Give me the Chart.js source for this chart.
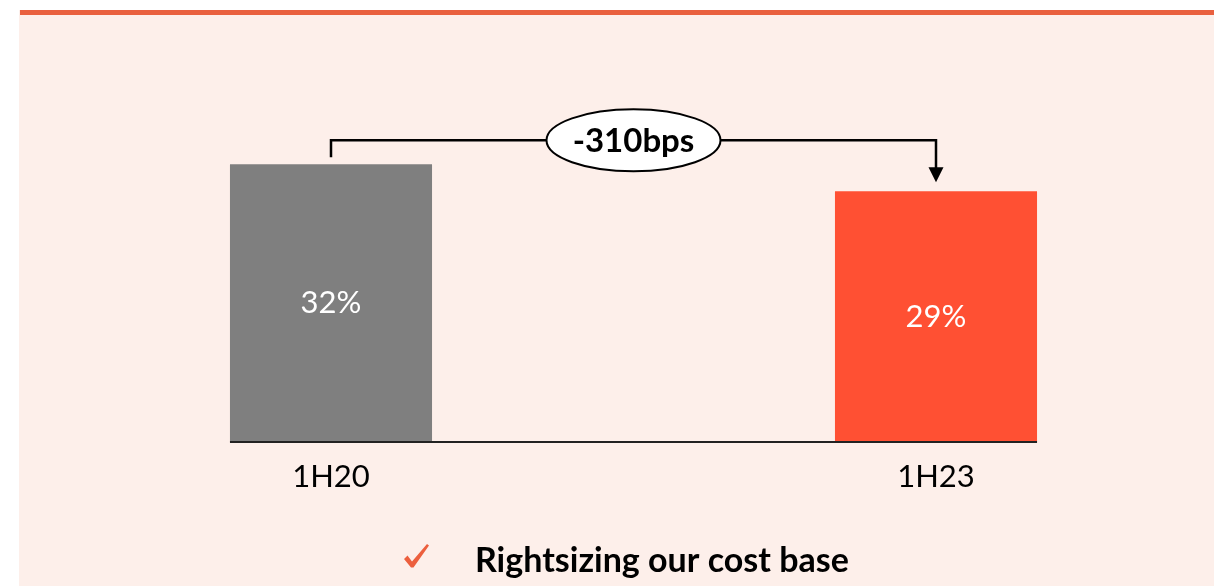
<!DOCTYPE html>
<html>
<head>
<meta charset="utf-8">
<script src="https://cdn.jsdelivr.net/npm/chart.js@4/dist/chart.umd.min.js"></script>
<style>
  html,body{margin:0;padding:0;background:#fff;}
  #wrap{width:1214px;height:586px;position:relative;}
</style>
</head>
<body>
<div id="wrap"><canvas id="myChart" width="1214" height="586"></canvas></div>
<script>
'use strict';
// data
let periods=['1H20','1H23'];
let costRatio=[32.1,29.0];
let barColors=['#7f7f7f','#ff5033'];
let changeLabel='-310bps';
let footNote='Rightsizing our cost base';

let bgPlugin={
  id:'bg',
  beforeDraw(chart){
    let ctx=chart.ctx;
    ctx.save();
    ctx.fillStyle='#ffffff';
    ctx.fillRect(0,0,chart.width,chart.height);
    ctx.fillStyle='#fdefea';
    ctx.fillRect(19,10,chart.width-19,chart.height-10);
    ctx.fillStyle='#e9603f';
    ctx.fillRect(20,10,chart.width-20,5);
    ctx.restore();
  }
};

let extrasPlugin={
  id:'extras',
  afterDatasetsDraw(chart){
    let ctx=chart.ctx;
    let bars=chart.getDatasetMeta(0).data;
    let b0=bars[0],b1=bars[1];
    ctx.save();
    // base line under the bars
    let zeroY=chart.scales.y.getPixelForValue(0);
    ctx.strokeStyle='#222';
    ctx.lineWidth=2;
    ctx.beginPath();
    ctx.moveTo(b0.x-b0.width/2,zeroY);
    ctx.lineTo(b1.x+b1.width/2,zeroY);
    ctx.stroke();

    // value labels inside bars
    ctx.fillStyle='#ffffff';
    ctx.font='31px Lato';
    ctx.textAlign='center';
    ctx.textBaseline='middle';
    bars.forEach((b,i)=>{
      ctx.fillText(Math.round(costRatio[i])+'%',b.x,(b.y+b.base)/2);
    });

    // bracket with arrow
    let topY=b0.y-24;
    let tipY=b1.y-9;
    ctx.strokeStyle='#000';
    ctx.lineWidth=2.5;
    ctx.beginPath();
    ctx.moveTo(b0.x,b0.y-7);
    ctx.lineTo(b0.x,topY);
    ctx.lineTo(b1.x,topY);
    ctx.lineTo(b1.x,tipY-14);
    ctx.stroke();
    ctx.fillStyle='#000';
    ctx.beginPath();
    ctx.moveTo(b1.x-7.5,tipY-15);
    ctx.lineTo(b1.x+7.5,tipY-15);
    ctx.lineTo(b1.x,tipY);
    ctx.closePath();
    ctx.fill();

    // ellipse badge
    let cx=(b0.x+b1.x)/2;
    ctx.fillStyle='#ffffff';
    ctx.lineWidth=2;
    ctx.beginPath();
    ctx.ellipse(cx,topY,87,31,0,0,Math.PI*2);
    ctx.fill();
    ctx.stroke();
    ctx.fillStyle='#000';
    ctx.font='bold 33px Lato';
    ctx.fillText(changeLabel,cx,topY+1);

    // footnote with check mark
    ctx.textAlign='left';
    ctx.textBaseline='alphabetic';
    ctx.font='bold 34px Lato';
    ctx.fillText(footNote,475,572);
    ctx.fillStyle='#ec5f3e';
    ctx.beginPath();
    ctx.moveTo(404,559);
    ctx.lineTo(407.5,555.5);
    ctx.lineTo(412,561.5);
    ctx.lineTo(427,544);
    ctx.lineTo(429,545.5);
    ctx.lineTo(413.5,567.5);
    ctx.lineTo(411,567.5);
    ctx.closePath();
    ctx.fill();
    ctx.restore();
  }
};

let ctx=document.getElementById('myChart');
let myChart=new Chart(ctx,{
  type:'bar',
  data:{
    labels:periods,
    datasets:[{
      data:costRatio,
      backgroundColor:barColors,
      borderWidth:0,
      categoryPercentage:1,
      barPercentage:0.334,
      clip:false
    }]
  },
  options:{
    responsive:false,
    animation:false,
    layout:{padding:{left:331,right:278,top:96,bottom:44}},
    plugins:{legend:{display:false},tooltip:{enabled:false}},
    scales:{
      x:{
        offset:false,
        grid:{display:false,drawTicks:false},
        border:{display:false},
        ticks:{color:'#000',font:{family:'Lato',size:31},padding:16,maxRotation:0},
        afterFit(scale){scale.height=100;}
      },
      y:{display:false,min:0,max:40}
    }
  },
  plugins:[bgPlugin,extrasPlugin]
});
</script>
</body>
</html>
